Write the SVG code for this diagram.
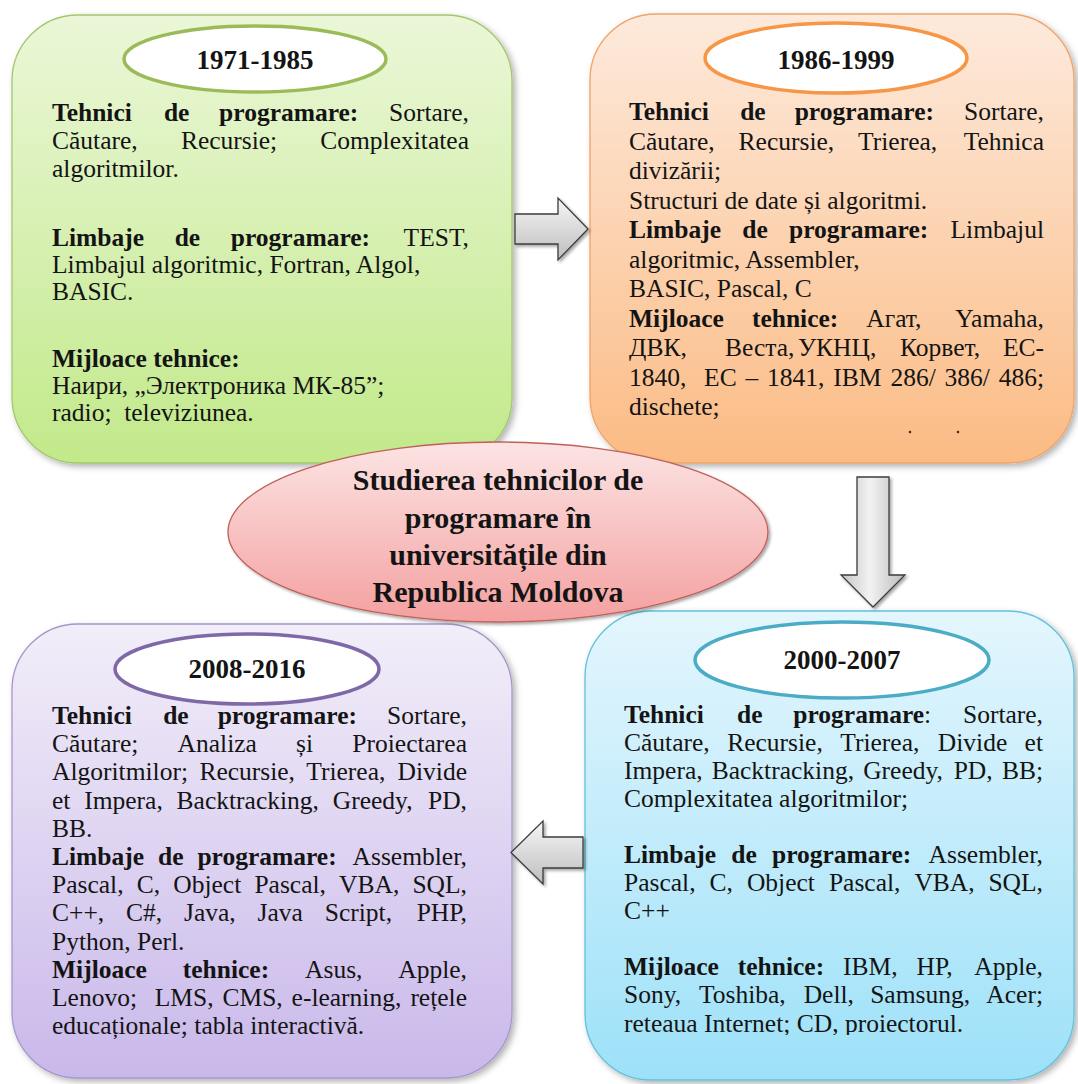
<svg xmlns="http://www.w3.org/2000/svg" width="1078" height="1084" viewBox="0 0 1078 1084">
  <defs>
    <style>
      text { font-family: "Liberation Serif", "Times New Roman", serif; fill: #141414; }
      .t { font-size: 25.5px; }
      .b { font-weight: bold; }
      .e { text-anchor: end; }
      .title { font-size: 27px; font-weight: bold; text-anchor: middle; }
      .hub { font-size: 30px; font-weight: bold; text-anchor: middle; }
      .box { stroke-width: 1.3; filter: url(#shadow); }
      .tag { fill: #ffffff; stroke-width: 3.5; }
      .arrow { fill: url(#gArrowH); stroke: #3c3c3c; stroke-width: 1.3; stroke-linejoin: miter; filter: url(#shadowSmall); }
    </style>
    <linearGradient id="gGreen" x1="0" y1="0" x2="0" y2="1">
      <stop offset="0" stop-color="#ebf7d8"/>
      <stop offset="1" stop-color="#c2e98a"/>
    </linearGradient>
    <linearGradient id="gOrange" x1="0" y1="0" x2="0" y2="1">
      <stop offset="0" stop-color="#fdeadc"/>
      <stop offset="1" stop-color="#fbbb84"/>
    </linearGradient>
    <linearGradient id="gPurple" x1="0" y1="0" x2="0" y2="1">
      <stop offset="0" stop-color="#f2eef9"/>
      <stop offset="1" stop-color="#c9b8ea"/>
    </linearGradient>
    <linearGradient id="gBlue" x1="0" y1="0" x2="0" y2="1">
      <stop offset="0" stop-color="#e4f6fd"/>
      <stop offset="1" stop-color="#9de1f8"/>
    </linearGradient>
    <linearGradient id="gPink" x1="0" y1="0" x2="0" y2="1">
      <stop offset="0" stop-color="#fce4e4"/>
      <stop offset="1" stop-color="#f4a0a0"/>
    </linearGradient>
    <linearGradient id="gArrowH" x1="0" y1="0" x2="0" y2="1">
      <stop offset="0" stop-color="#f6f6f6"/>
      <stop offset="1" stop-color="#bebebe"/>
    </linearGradient>
    <linearGradient id="gArrowV" x1="0" y1="0" x2="1" y2="0">
      <stop offset="0" stop-color="#c4c4c4"/>
      <stop offset="0.45" stop-color="#f2f2f2"/>
      <stop offset="1" stop-color="#bcbcbc"/>
    </linearGradient>
    <filter id="shadow" x="-10%" y="-10%" width="120%" height="120%">
      <feDropShadow dx="3" dy="3" stdDeviation="3" flood-color="#000000" flood-opacity="0.3"/>
    </filter>
    <filter id="shadowSmall" x="-20%" y="-20%" width="140%" height="140%">
      <feDropShadow dx="2" dy="2" stdDeviation="1.5" flood-color="#000000" flood-opacity="0.35"/>
    </filter>
    <clipPath id="clipBlueLast">
      <rect x="585" y="1005" width="489" height="30"/>
    </clipPath>
  </defs>

  <rect width="1078" height="1084" fill="#ffffff"/>

  <!-- Period 1971-1985 -->
  <g id="node-1971-1985">
    <rect class="box" x="12" y="15" width="500" height="448" rx="66" ry="66" fill="url(#gGreen)" stroke="#a3c86c"/>
    <ellipse class="tag" cx="255" cy="59" rx="131" ry="33" stroke="#9bbb59"/>
    <text class="title" x="255" y="69">1971-1985</text>
    <text class="t b" x="52" y="121">Tehnici</text>
    <text class="t b" x="163.9" y="121">de</text>
    <text class="t b" x="219.1" y="121">programare:</text>
    <text class="t e" x="469" y="121">Sortare,</text>
    <text class="t" x="52" y="149">Căutare,</text>
    <text class="t" x="180.9" y="149">Recursie;</text>
    <text class="t e" x="469" y="149">Complexitatea</text>
    <text class="t" x="52" y="177">algoritmilor.</text>

    <text class="t b" x="52" y="246">Limbaje</text>
    <text class="t b" x="174.7" y="246">de</text>
    <text class="t b" x="230.8" y="246">programare:</text>
    <text class="t e" x="469" y="246">TEST,</text>
    <text class="t" x="52" y="273">Limbajul algoritmic, Fortran, Algol,</text>
    <text class="t" x="52" y="300">BASIC.</text>

    <text class="t b" x="52" y="367">Mijloace tehnice:</text>
    <text class="t" x="52" y="394">Наири, „Электроника МК-85”;</text>
    <text class="t" x="52" y="421">radio;</text>
    <text class="t" x="124.2" y="421">televiziunea.</text>
  </g>

  <!-- Period 1986-1999 -->
  <g id="node-1986-1999">
    <rect class="box" x="590" y="14" width="484" height="449" rx="66" ry="66" fill="url(#gOrange)" stroke="#f2a468"/>
    <ellipse class="tag" cx="836" cy="58" rx="131" ry="35" stroke="#f79646"/>
    <text class="title" x="836" y="69">1986-1999</text>
    <text class="t b" x="629" y="120">Tehnici</text>
    <text class="t b" x="740.2" y="120">de</text>
    <text class="t b" x="794.7" y="120">programare:</text>
    <text class="t e" x="1044" y="120">Sortare,</text>
    <text class="t" x="629" y="149.5">Căutare,</text>
    <text class="t" x="738.6" y="149.5">Recursie,</text>
    <text class="t" x="858.1" y="149.5">Trierea,</text>
    <text class="t e" x="1044" y="149.5">Tehnica</text>
    <text class="t" x="629" y="179">divizării;</text>
    <text class="t" x="629" y="208.5">Structuri de date și algoritmi.</text>
    <text class="t b" x="629" y="238">Limbaje</text>
    <text class="t b" x="742.3" y="238">de</text>
    <text class="t b" x="789" y="238">programare:</text>
    <text class="t e" x="1044" y="238">Limbajul</text>
    <text class="t" x="629" y="267.5">algoritmic, Assembler,</text>
    <text class="t" x="629" y="297">BASIC, Pascal, C</text>
    <text class="t b" x="629" y="326.5">Mijloace</text>
    <text class="t b" x="751.9" y="326.5">tehnice:</text>
    <text class="t" x="866.3" y="326.5">Агат,</text>
    <text class="t e" x="1044" y="326.5">Yamaha,</text>
    <text class="t" x="629" y="356">ДВК,</text>
    <text class="t" x="725" y="356">Веста,</text>
    <text class="t" x="798" y="356">УКНЦ,</text>
    <text class="t" x="900" y="356">Корвет,</text>
    <text class="t e" x="1044" y="356">ЕС-</text>
    <text class="t" x="629" y="385.5">1840,</text>
    <text class="t" x="704.1" y="385.5">ЕС</text>
    <text class="t" x="745.5" y="385.5">–</text>
    <text class="t" x="767.1" y="385.5">1841,</text>
    <text class="t" x="833.3" y="385.5">IBM</text>
    <text class="t" x="890.4" y="385.5">286/</text>
    <text class="t" x="944.5" y="385.5">386/</text>
    <text class="t e" x="1044" y="385.5">486;</text>
    <text class="t" x="629" y="415">dischete;</text>
    <circle cx="910" cy="432" r="1.3" fill="#333333"/>
    <circle cx="958" cy="432" r="1.3" fill="#333333"/>
  </g>

  <!-- Period 2008-2016 -->
  <g id="node-2008-2016">
    <rect class="box" x="12" y="624" width="500" height="454" rx="66" ry="66" fill="url(#gPurple)" stroke="#a796cb"/>
    <ellipse class="tag" cx="247" cy="669" rx="132" ry="35" stroke="#7f68a8"/>
    <text class="title" x="247" y="678">2008-2016</text>
    <text class="t b" x="52" y="724">Tehnici</text>
    <text class="t b" x="163.2" y="724">de</text>
    <text class="t b" x="217.7" y="724">programare:</text>
    <text class="t e" x="467" y="724">Sortare,</text>
    <text class="t" x="52" y="752.2">Căutare;</text>
    <text class="t" x="177.6" y="752.2">Analiza</text>
    <text class="t" x="296.1" y="752.2">și</text>
    <text class="t e" x="467" y="752.2">Proiectarea</text>
    <text class="t" x="52" y="780.4">Algoritmilor;</text>
    <text class="t" x="199.4" y="780.4">Recursie,</text>
    <text class="t" x="306.3" y="780.4">Trierea,</text>
    <text class="t e" x="467" y="780.4">Divide</text>
    <text class="t" x="52" y="808.6">et</text>
    <text class="t" x="84.2" y="808.6">Impera,</text>
    <text class="t" x="176.6" y="808.6">Backtracking,</text>
    <text class="t" x="332.8" y="808.6">Greedy,</text>
    <text class="t e" x="467" y="808.6">PD,</text>
    <text class="t" x="52" y="836.8">BB.</text>
    <text class="t b" x="52" y="865">Limbaje</text>
    <text class="t b" x="158" y="865">de</text>
    <text class="t b" x="197.4" y="865">programare:</text>
    <text class="t e" x="467" y="865">Assembler,</text>
    <text class="t" x="52" y="893.2">Pascal,</text>
    <text class="t" x="136.7" y="893.2">C,</text>
    <text class="t" x="173.3" y="893.2">Object</text>
    <text class="t" x="254.4" y="893.2">Pascal,</text>
    <text class="t" x="339.1" y="893.2">VBA,</text>
    <text class="t e" x="467" y="893.2">SQL,</text>
    <text class="t" x="52" y="921.4">C++,</text>
    <text class="t" x="126" y="921.4">C#,</text>
    <text class="t" x="184" y="921.4">Java,</text>
    <text class="t" x="257.6" y="921.4">Java</text>
    <text class="t" x="324.8" y="921.4">Script,</text>
    <text class="t e" x="467" y="921.4">PHP,</text>
    <text class="t" x="52" y="949.6">Python, Perl.</text>
    <text class="t b" x="52" y="977.8">Mijloace</text>
    <text class="t b" x="182.8" y="977.8">tehnice:</text>
    <text class="t" x="305.1" y="977.8">Asus,</text>
    <text class="t e" x="467" y="977.8">Apple,</text>
    <text class="t" x="52" y="1006">Lenovo;</text>
    <text class="t" x="154.8" y="1006">LMS,</text>
    <text class="t" x="222.5" y="1006">CMS,</text>
    <text class="t" x="291.6" y="1006">e-learning,</text>
    <text class="t e" x="467" y="1006">rețele</text>
    <text class="t" x="52" y="1034.2">educaționale; tabla interactivă.</text>
  </g>

  <!-- Period 2000-2007 -->
  <g id="node-2000-2007">
    <rect class="box" x="585" y="611" width="489" height="469" rx="66" ry="66" fill="url(#gBlue)" stroke="#62c1dc"/>
    <ellipse class="tag" cx="842" cy="660" rx="147" ry="38" stroke="#4bacc6"/>
    <text class="title" x="842" y="669">2000-2007</text>
    <text class="t b" x="624" y="723">Tehnici</text>
    <text class="t b" x="737" y="723">de</text>
    <text class="t" x="793.3" y="723"><tspan class="b">programare</tspan>:</text>
    <text class="t e" x="1043" y="723">Sortare,</text>
    <text class="t" x="624" y="751">Căutare,</text>
    <text class="t" x="727.2" y="751">Recursie,</text>
    <text class="t" x="840.3" y="751">Trierea,</text>
    <text class="t" x="937.8" y="751">Divide</text>
    <text class="t e" x="1043" y="751">et</text>
    <text class="t" x="624" y="779">Impera,</text>
    <text class="t" x="711.7" y="779">Backtracking,</text>
    <text class="t" x="863.2" y="779">Greedy,</text>
    <text class="t" x="953.7" y="779">PD,</text>
    <text class="t e" x="1043" y="779">BB;</text>
    <text class="t" x="624" y="807">Complexitatea algoritmilor;</text>
    <text class="t b" x="624" y="863">Limbaje</text>
    <text class="t b" x="731.3" y="863">de</text>
    <text class="t b" x="772" y="863">programare:</text>
    <text class="t e" x="1043" y="863">Assembler,</text>
    <text class="t" x="624" y="891">Pascal,</text>
    <text class="t" x="709.5" y="891">C,</text>
    <text class="t" x="746.9" y="891">Object</text>
    <text class="t" x="828.9" y="891">Pascal,</text>
    <text class="t" x="914.4" y="891">VBA,</text>
    <text class="t e" x="1043" y="891">SQL,</text>
    <text class="t" x="624" y="919">C++</text>
    <text class="t b" x="624" y="975">Mijloace</text>
    <text class="t b" x="737.8" y="975">tehnice:</text>
    <text class="t" x="843" y="975">IBM,</text>
    <text class="t" x="916.5" y="975">HP,</text>
    <text class="t e" x="1043" y="975">Apple,</text>
    <text class="t" x="624" y="1003">Sony,</text>
    <text class="t" x="699" y="1003">Toshiba,</text>
    <text class="t" x="803.7" y="1003">Dell,</text>
    <text class="t" x="870.2" y="1003">Samsung,</text>
    <text class="t e" x="1043" y="1003">Acer;</text>
    <text class="t" x="624" y="1032" clip-path="url(#clipBlueLast)">reteaua Internet; CD, proiectorul.</text>
  </g>

  <!-- Block arrows between the periods -->
  <g id="connectors">
    <path class="arrow" d="M515,214 H558 V198 L588,229 L558,260 V244 H515 Z"/>
    <path class="arrow" style="fill:url(#gArrowV)" d="M857,477 H889 V575 H905 L873,607 L841,575 H857 Z"/>
    <path class="arrow" d="M583,837 V868 H543 V884 L511,852.5 L543,821 V837 Z"/>
  </g>

  <!-- Central topic -->
  <g id="node-central">
    <ellipse cx="498" cy="532" rx="270" ry="90" fill="url(#gPink)" stroke="#c0605a" stroke-width="1.3" filter="url(#shadowSmall)"/>
    <text class="hub" x="498" y="490">Studierea tehnicilor de</text>
    <text class="hub" x="498" y="528">programare în</text>
    <text class="hub" x="498" y="565">universitățile din</text>
    <text class="hub" x="498" y="602">Republica Moldova</text>
  </g>
</svg>
